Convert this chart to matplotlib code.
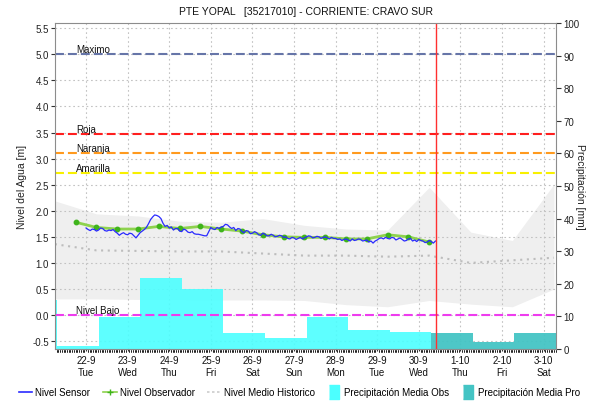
import matplotlib
matplotlib.use("Agg")
import matplotlib.pyplot as plt
from matplotlib.lines import Line2D
import numpy as np

plt.rcParams["font.family"] = ["Liberation Sans", "DejaVu Sans"]

# ---------------- data ----------------
title = "PTE YOPAL   [35217010] - CORRIENTE: CRAVO SUR"

# day index 0 = 22-9 00:00
day_ticks = [0, 1, 2, 3, 4, 5, 6, 7, 8, 9, 10, 11]
day_labels = ["22-9\nTue", "23-9\nWed", "24-9\nThu", "25-9\nFri", "26-9\nSat",
              "27-9\nSun", "28-9\nMon", "29-9\nTue", "30-9\nWed", "1-10\nThu",
              "2-10\nFri", "3-10\nSat"]

# sensor readings every 1.2 h starting 22-9 00:00 (m)
sensor_start, sensor_step = 0.0, 0.05
sensor_level = [
    1.67, 1.64, 1.62, 1.65, 1.64, 1.61, 1.63, 1.67, 1.66, 1.62,
    1.61, 1.63, 1.62, 1.64, 1.60, 1.57, 1.53, 1.56, 1.58, 1.55,
    1.54, 1.57, 1.56, 1.52, 1.48, 1.53, 1.58, 1.61, 1.64, 1.68,
    1.75, 1.83, 1.88, 1.92, 1.91, 1.89, 1.85, 1.76, 1.70, 1.72,
    1.67, 1.69, 1.63, 1.66, 1.66, 1.61, 1.60, 1.65, 1.63, 1.59,
    1.58, 1.60, 1.56, 1.55, 1.55, 1.54, 1.53, 1.52, 1.52, 1.60,
    1.68, 1.65, 1.64, 1.68, 1.66, 1.69, 1.70, 1.74, 1.73, 1.69,
    1.66, 1.68, 1.62, 1.66, 1.65, 1.60, 1.58, 1.62, 1.61, 1.56,
    1.57, 1.60, 1.58, 1.54, 1.53, 1.57, 1.55, 1.52, 1.52, 1.55,
    1.53, 1.50, 1.51, 1.53, 1.52, 1.49, 1.50, 1.47, 1.46, 1.49,
    1.48, 1.45, 1.47, 1.49, 1.46, 1.48, 1.50, 1.52, 1.51, 1.48,
    1.49, 1.51, 1.50, 1.47, 1.49, 1.50, 1.48, 1.46, 1.49, 1.47,
    1.47, 1.45, 1.46, 1.43, 1.45, 1.46, 1.44, 1.42, 1.46, 1.43,
    1.44, 1.46, 1.45, 1.42, 1.43, 1.44, 1.40, 1.42, 1.38, 1.42,
    1.44, 1.47, 1.48, 1.46, 1.49, 1.47, 1.46, 1.49, 1.48, 1.44,
    1.46, 1.48, 1.45, 1.42, 1.43, 1.46, 1.47, 1.42, 1.44, 1.41,
    1.45, 1.43, 1.42, 1.39, 1.40, 1.43, 1.41, 1.38, 1.42,
]

# observer readings (06:00 and 18:00)
obs_time = [-0.25, 0.25, 0.75, 1.25, 1.75, 2.25, 2.75, 3.25, 3.75,
            4.25, 4.75, 5.25, 5.75, 6.25, 6.75, 7.25, 7.75, 8.25]
obs_level = [1.78, 1.68, 1.65, 1.65, 1.70, 1.66, 1.70, 1.65, 1.61,
             1.54, 1.50, 1.49, 1.49, 1.46, 1.46, 1.54, 1.50, 1.40]

# historic statistics (daily values at 06:00)
hist_time = [-0.75, 0.25, 1.25, 2.25, 3.25, 4.25, 5.25, 6.25, 7.25,
             8.25, 9.25, 10.25, 11.25]
hist_high = [2.19, 1.94, 1.90, 1.80, 1.78, 1.85, 1.72, 1.65, 1.63,
             2.45, 1.59, 1.43, 2.51]
hist_low = [0.31, 0.31, 0.30, 0.30, 0.29, 0.29, 0.28, 0.20, 0.16,
            0.28, 0.21, 0.16, 0.50]
hist_mean = [1.36, 1.24, 1.23, 1.22, 1.22, 1.18, 1.14, 1.14, 1.12,
             1.14, 1.00, 1.05, 1.10]

# daily precipitation (07:00 to 07:00), mm
precip_obs_start = [-1.7, -0.7, 0.3, 1.3, 2.3, 3.3, 4.3, 5.3, 6.3, 7.3]
precip_obs_mm = [15.0, 1.0, 9.8, 21.7, 18.4, 5.0, 3.5, 9.8, 5.8, 5.3]
precip_pro_start = [8.3, 9.3, 10.3]
precip_pro_mm = [5.0, 2.2, 5.0]

# alert thresholds (m)
thr_names = ["Maximo", "Roja", "Naranja", "Amarilla", "Nivel Bajo"]
thr_values = [5.0, 3.47, 3.11, 2.72, 0.0]
thr_colors = ["#6675a8", "#ff1e1e", "#ff9a1e", "#f8f000", "#ee3cee"]

now_time = 8.41

# ---------------- figure ----------------
C_SENSOR = "#2a2aff"
C_OBS_LINE = "#8ed24e"
C_OBS_MK = "#3fb41c"
C_HIST = "#bdbdbd"
C_OBS_BAR = "#4cffff"
C_PRO_BAR = "#44c4c4"
C_SPINE = "#8c8c8c"

fig = plt.figure(figsize=(5.9, 4.02), dpi=100)
rect = [0.0937, 0.1294, 0.8495, 0.8109]
XLIM = (-0.74, 11.31)
YLIM = (-0.65, 5.6)
level_ticks = [-0.5, 0.0, 0.5, 1.0, 1.5, 2.0, 2.5, 3.0, 3.5, 4.0, 4.5, 5.0, 5.5]

# background layer: grid and historic band
ax_bg = fig.add_axes(rect)
ax_bg.set_xlim(*XLIM)
ax_bg.set_ylim(*YLIM)
ax_bg.set_xticks(day_ticks)
ax_bg.set_yticks(level_ticks)
ax_bg.grid(True, linestyle=(0, (1.5, 2.5)), color="#c2c2c2", linewidth=0.8)
ax_bg.tick_params(labelleft=False, labelbottom=False, length=0)
for s in ax_bg.spines.values():
    s.set_visible(False)
ax_bg.fill_between(hist_time, hist_low, hist_high, color="#efefef", lw=0)
ax_bg.plot(hist_time, hist_mean, linestyle=(0, (1, 2.2)), color=C_HIST, lw=1.5)

# precipitation layer (right axis)
ax_pr = fig.add_axes(rect, sharex=ax_bg)
ax_pr.patch.set_visible(False)
ax_pr.bar(precip_obs_start, precip_obs_mm, width=1.0, align="edge",
          color=C_OBS_BAR, alpha=0.9, lw=0)
ax_pr.bar(precip_pro_start, precip_pro_mm, width=1.0, align="edge",
          color=C_PRO_BAR, alpha=0.95, lw=0)
ax_pr.set_ylim(0, 100)
ax_pr.set_yticks(range(0, 101, 10))
ax_pr.yaxis.tick_right()
ax_pr.yaxis.set_label_position("right")
ax_pr.tick_params(axis="y", labelsize=7, length=3.5, width=0.8,
                  color="#333333", labelcolor="#222222", pad=1.5)
ax_pr.tick_params(axis="x", labelbottom=False, length=0)
for side in ["left", "top", "bottom"]:
    ax_pr.spines[side].set_visible(False)
ax_pr.spines["right"].set_color(C_SPINE)
ax_pr.set_ylabel("Precipitación [mm]", rotation=270, fontsize=7.5,
                 labelpad=4, color="#222222")

# level layer (left axis)
ax = fig.add_axes(rect, sharex=ax_bg, sharey=ax_bg)
ax.patch.set_visible(False)
for name, val, col in zip(thr_names, thr_values, thr_colors):
    ax.axhline(val, color=col, lw=1.5, dashes=(4.3, 1.9))
    ax.annotate(name, xy=(-0.24, val), xytext=(0, 1.6),
                textcoords="offset points", fontsize=7, va="baseline",
                ha="left", color="#111111")

ax.plot(obs_time, obs_level, color=C_OBS_LINE, lw=2.0, solid_capstyle="round")
ax.plot(obs_time, obs_level, ls="none", marker="o", ms=3.2, color=C_OBS_MK)
sensor_time = [sensor_start + i * sensor_step for i in range(len(sensor_level))]
ax.plot(sensor_time, sensor_level, color=C_SENSOR, lw=0.9)
ax.axvline(now_time, color="#ff3030", lw=1.0)

ax.set_xlim(*XLIM)
ax.set_ylim(*YLIM)
ax.set_yticks(level_ticks)
ax.set_yticklabels([f"{v:.1f}" for v in level_ticks])
ax.set_xticks(day_ticks)
ax.set_xticklabels(day_labels, linespacing=1.3)
ax.set_xticks(np.arange(-17, 272) / 24, minor=True)
ax.tick_params(axis="x", which="major", labelsize=7, length=1.5, width=0.8,
               color="#333333", labelcolor="#111111", pad=2.5)
ax.tick_params(axis="x", which="minor", length=1.5, width=0.6, color="#555555")
ax.tick_params(axis="y", labelsize=7, length=3, width=0.8, color="#333333",
               labelcolor="#222222", pad=1.5)
ax.spines["right"].set_visible(False)
for side in ["left", "top", "bottom"]:
    ax.spines[side].set_color(C_SPINE)
ax.set_ylabel("Nivel del Agua [m]", fontsize=7.5, labelpad=4, color="#222222")

fig.text(0.518, 0.969, title, ha="center", va="center", fontsize=7.5,
         color="#111111")

mk_rect = [(-0.35, -0.5), (0.35, -0.5), (0.35, 0.5), (-0.35, 0.5)]
handles = [
    Line2D([], [], color=C_SENSOR, lw=1.2),
    Line2D([], [], color=C_OBS_LINE, lw=1.2, marker="+", ms=4,
           markeredgecolor=C_OBS_MK),
    Line2D([], [], color="#cccccc", lw=1.2, linestyle=(0, (1.5, 1.5))),
    Line2D([], [], ls="none", marker=mk_rect, ms=10, color=C_OBS_BAR),
    Line2D([], [], ls="none", marker=mk_rect, ms=10, color=C_PRO_BAR),
]
labels = ["Nivel Sensor", "Nivel Observador", "Nivel Medio Historico",
          "Precipitación Media Obs", "Precipitación Media Pro"]
fig.legend(handles, labels, loc="center left", bbox_to_anchor=(0.032, 0.022),
           ncol=5, frameon=False, fontsize=7, handlelength=1.4,
           handletextpad=0.3, columnspacing=1.3, borderpad=0, borderaxespad=0)

fig.savefig("out.png", dpi=100)
